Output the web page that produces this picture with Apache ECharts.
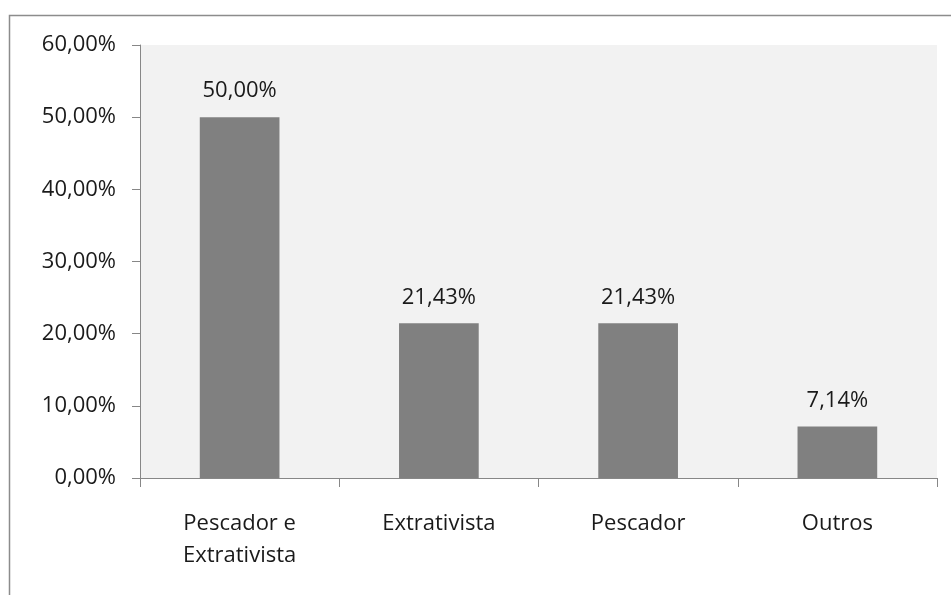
<!DOCTYPE html>
<html>
<head>
<meta charset="utf-8">
<script src="https://cdn.jsdelivr.net/npm/echarts@6/dist/echarts.min.js"></script>
<style>
  html, body { margin: 0; padding: 0; background: #fff; }
  #chart { width: 951px; height: 595px; }
</style>
</head>
<body>
<div id="chart"></div>
<script>
// categorias e valores (%)
var categories = ["Pescador e\nExtrativista", "Extrativista", "Pescador", "Outros"];
var values = [50.00, 21.43, 21.43, 7.14];
var yTicks = [0, 10, 20, 30, 40, 50, 60];

function fmtPct(v) {
  return v.toFixed(2).replace(".", ",") + "%";
}

var fontFamily = "'Open Sans', sans-serif";

var myChart = echarts.init(document.getElementById("chart"));
var option = {
  backgroundColor: "#fff",
  animation: false,
  graphic: [
    {
      // moldura do grafico (cortada a direita e embaixo)
      type: "rect",
      shape: { x: 9.5, y: 15.5, width: 1200, height: 1200 },
      style: { fill: "none", stroke: "#8c8c8c", lineWidth: 1.5 },
      silent: true,
      z: -10
    }
  ],
  grid: {
    left: 140,
    right: 14,
    top: 45,
    bottom: 117,
    show: true,
    backgroundColor: "#F2F2F2",
    borderWidth: 0
  },
  xAxis: {
    type: "category",
    data: categories,
    axisLine: { show: true, lineStyle: { color: "#878787", width: 1 } },
    axisTick: { show: true, length: 9, alignWithLabel: false, lineStyle: { color: "#878787" } },
    axisLabel: {
      color: "#1a1a1a",
      fontFamily: fontFamily,
      fontSize: 22,
      lineHeight: 32,
      margin: 30,
      interval: 0
    }
  },
  yAxis: {
    type: "value",
    min: 0,
    max: yTicks[yTicks.length - 1],
    interval: 10,
    splitLine: { show: false },
    axisLine: { show: true, lineStyle: { color: "#878787", width: 1 } },
    axisTick: { show: true, length: 8, lineStyle: { color: "#878787" } },
    axisLabel: {
      color: "#1a1a1a",
      fontFamily: fontFamily,
      fontSize: 22,
      margin: 24,
      formatter: function (v) { return fmtPct(v); }
    }
  },
  series: [
    {
      type: "bar",
      data: values,
      barWidth: "40%",
      itemStyle: { color: "#808080" },
      label: {
        show: true,
        position: "top",
        distance: 15,
        color: "#1a1a1a",
        fontFamily: fontFamily,
        fontSize: 22,
        formatter: function (p) { return fmtPct(p.value); }
      }
    }
  ]
};
myChart.setOption(option);
window.addEventListener("resize", () => {
  myChart.resize();
});
</script>
</body>
</html>
